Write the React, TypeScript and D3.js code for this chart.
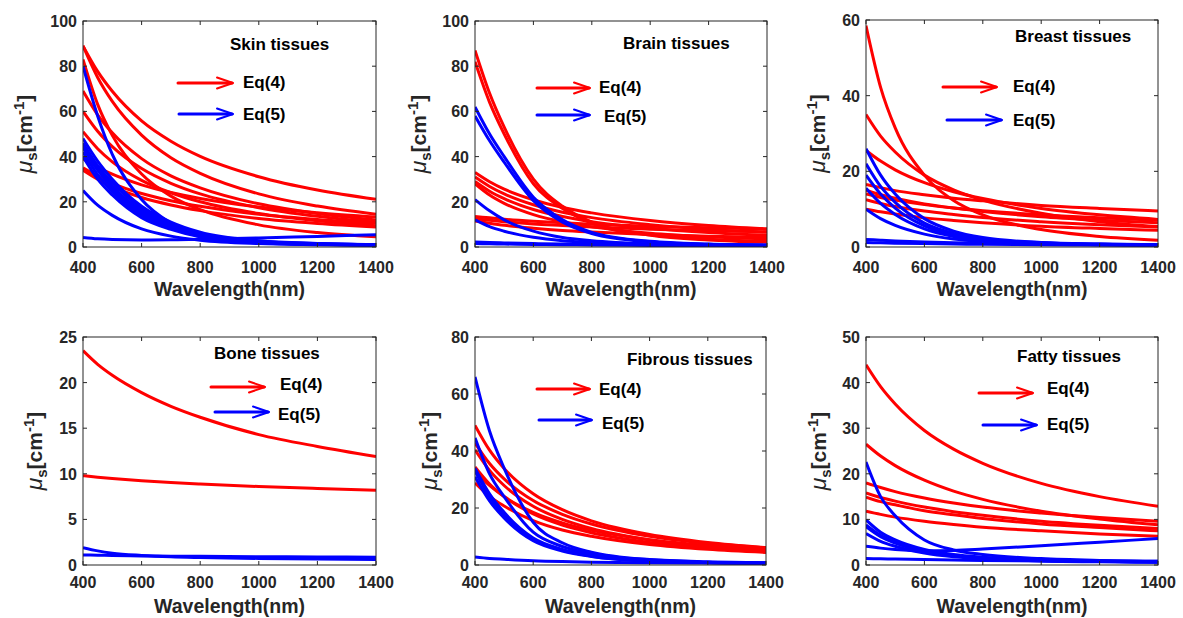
import React from 'react';
import * as d3 from 'd3';

// ---------- data ----------
const WAVELENGTHS = [400, 450, 500, 600, 700, 800, 1000, 1200, 1400];
const X_TICKS = [400, 600, 800, 1000, 1200, 1400];

const skinEq4 = [
  [89, 77.7, 68.9, 55.8, 46.8, 40.1, 31.1, 25.2, 21.1],
  [89, 75, 64.4, 49.5, 39.5, 32.6, 23.5, 18.1, 14.5],
  [83, 63.1, 49.4, 32.3, 22.5, 16.5, 9.8, 6.4, 4.5],
  [69, 58.5, 50.5, 39.1, 31.5, 26.2, 19.1, 14.8, 11.9],
  [60, 51.2, 44.4, 34.7, 28.2, 23.5, 17.4, 13.6, 11.0],
  [51, 43.5, 37.7, 29.5, 24.0, 20.0, 14.8, 11.6, 9.4],
  [39, 35.3, 32.2, 27.5, 24.1, 21.5, 17.7, 15.2, 13.3],
  [35, 31.3, 28.2, 23.7, 20.5, 18.0, 14.5, 12.2, 10.5],
  [34, 30, 26.7, 21.9, 18.6, 16.1, 12.6, 10.4, 8.8],
];
const skinEq5 = [
  [80, 58, 41, 21, 10.5, 4.5, 1.8, 1.2, 1.0],
  [48, 38, 30, 18, 11, 6.5, 2.8, 1.6, 1.1],
  [46, 36, 28.5, 17, 10, 6, 2.6, 1.5, 1.0],
  [45, 35, 27, 16, 9.5, 5.5, 2.4, 1.4, 1.0],
  [44, 34, 26, 15, 9, 5, 2.2, 1.3, 0.9],
  [42, 32, 24.5, 14, 8.5, 4.8, 2.1, 1.2, 0.9],
  [40, 30, 23, 13, 7.8, 4.5, 2.0, 1.2, 0.8],
  [25, 18.5, 14, 8, 4.8, 3, 1.5, 1.0, 0.7],
  [4.2, 3.6, 3.3, 3.1, 3.2, 3.4, 4.0, 4.7, 5.4],
];

const brainEq4 = [
  [87, 68, 53, 30, 18, 11, 5.5, 3.4, 2.5],
  [82, 64, 50, 28, 17, 10.5, 5.2, 3.1, 2.1],
  [33, 28.9, 25.6, 20.9, 17.5, 15.1, 11.7, 9.5, 8.0],
  [31, 26.8, 23.5, 18.7, 15.4, 13.0, 9.9, 7.8, 6.5],
  [29, 24.7, 21.4, 16.6, 13.5, 11.2, 8.3, 6.4, 5.2],
  [28, 23, 19.3, 14.3, 11.1, 8.9, 6.1, 4.5, 3.5],
  [13.5, 12.9, 12.3, 11.4, 10.7, 10.1, 9.2, 8.5, 8.0],
  [12.5, 11.8, 11.2, 10.2, 9.5, 8.8, 7.9, 7.2, 6.7],
  [11.5, 10.5, 9.6, 8.3, 7.3, 6.6, 5.5, 4.8, 4.2],
];
const brainEq5 = [
  [62, 50, 40, 22, 12, 6.5, 2.5, 1.3, 0.9],
  [58, 47, 37.5, 20.5, 11, 6, 2.3, 1.2, 0.8],
  [21, 16, 12, 7, 4.2, 2.8, 1.4, 0.9, 0.7],
  [12, 9, 7, 4.3, 2.8, 2, 1.2, 0.8, 0.6],
  [2.2, 2.0, 1.8, 1.5, 1.3, 1.2, 1.0, 0.9, 0.8],
  [1.5, 1.4, 1.3, 1.1, 1.0, 0.9, 0.7, 0.6, 0.5],
];

const breastEq4 = [
  [58.5, 42.2, 31.5, 19.0, 12.3, 8.5, 4.6, 2.8, 1.8],
  [35, 29.3, 25.1, 19.0, 15.1, 12.4, 8.9, 6.7, 5.4],
  [25.5, 22.7, 20.4, 17, 14.6, 12.8, 10.2, 8.5, 7.3],
  [16.5, 15.7, 14.9, 13.8, 12.9, 12.2, 11.0, 10.2, 9.5],
  [15, 13.8, 12.9, 11.4, 10.3, 9.4, 8.0, 7.1, 6.4],
  [14, 13.1, 12.4, 11.2, 10.3, 9.6, 8.5, 7.7, 7.1],
  [12.5, 11.5, 10.7, 9.5, 8.6, 7.8, 6.7, 5.9, 5.3],
  [10, 9.3, 8.7, 7.7, 7.0, 6.4, 5.5, 4.9, 4.4],
];
const breastEq5 = [
  [26, 19, 14, 7.5, 4.2, 2.5, 1.2, 0.8, 0.6],
  [22, 16, 11.8, 6.3, 3.6, 2.2, 1.1, 0.7, 0.5],
  [19, 14, 10.3, 5.6, 3.2, 2, 1.0, 0.7, 0.5],
  [15.5, 11.5, 8.6, 4.8, 2.8, 1.8, 0.9, 0.6, 0.5],
  [10, 7.5, 5.7, 3.4, 2.1, 1.4, 0.8, 0.6, 0.4],
  [2, 1.8, 1.6, 1.3, 1.1, 1.0, 0.8, 0.7, 0.6],
  [1.2, 1.1, 1.0, 0.9, 0.8, 0.7, 0.6, 0.5, 0.4],
];

const boneEq4 = [
  [23.5, 22.0, 20.8, 18.9, 17.4, 16.2, 14.3, 13.0, 11.9],
  [9.8, 9.63, 9.49, 9.25, 9.05, 8.88, 8.6, 8.39, 8.2],
];
const boneEq5 = [
  [1.9, 1.55, 1.3, 1.05, 0.9, 0.82, 0.72, 0.66, 0.6],
  [1.1, 1.07, 1.04, 1.0, 0.97, 0.95, 0.91, 0.88, 0.85],
];

const fibrousEq4 = [
  [49, 40.3, 33.9, 25.0, 19.4, 15.5, 10.7, 7.9, 6.1],
  [42.8, 35.6, 30.2, 22.6, 17.8, 14.4, 10.1, 7.6, 6.0],
  [40.4, 33.2, 27.9, 20.6, 16.0, 12.8, 8.8, 6.5, 5.0],
  [34.4, 28.4, 24.0, 17.9, 14.0, 11.3, 7.9, 5.9, 4.6],
  [33, 27.9, 24.0, 18.5, 14.8, 12.2, 8.9, 6.9, 5.5],
  [28.8, 24.1, 20.7, 15.6, 12.3, 10.1, 7.2, 5.5, 4.4],
];
const fibrousEq5 = [
  [66, 47, 34, 15, 7.8, 4.5, 1.9, 1.1, 0.8],
  [44.6, 32, 24, 11.5, 6.5, 4, 1.8, 1.0, 0.7],
  [34, 25, 18.5, 9.5, 5.5, 3.3, 1.5, 0.9, 0.6],
  [33, 24, 17.5, 9, 5.2, 3.1, 1.4, 0.9, 0.6],
  [31, 22.5, 16.5, 8.5, 4.9, 3.0, 1.4, 0.8, 0.6],
  [2.8, 2.3, 2.0, 1.5, 1.2, 1.0, 0.8, 0.7, 0.6],
];

const fattyEq4 = [
  [43.9, 39.1, 35.3, 29.5, 25.4, 22.3, 17.9, 15.0, 12.9],
  [26.5, 23.9, 21.8, 18.6, 16.2, 14.4, 11.8, 10.1, 8.8],
  [18, 17.0, 16.1, 14.7, 13.6, 12.7, 11.4, 10.4, 9.6],
  [15.8, 14.8, 14.0, 12.7, 11.7, 10.9, 9.6, 8.7, 8.0],
  [14.9, 13.9, 13.2, 11.9, 11.0, 10.2, 9.0, 8.2, 7.5],
  [11.8, 11.1, 10.5, 9.6, 8.9, 8.3, 7.5, 6.8, 6.3],
];
const fattyEq5 = [
  [22.6, 15, 10.8, 5.5, 3.3, 2.3, 1.4, 1.0, 0.8],
  [9.9, 7.2, 5.5, 3.4, 2.3, 1.7, 1.1, 0.9, 0.7],
  [8.8, 6.5, 5.0, 3.1, 2.1, 1.6, 1.0, 0.8, 0.7],
  [8.4, 6.2, 4.8, 3.0, 2.0, 1.5, 1.0, 0.8, 0.6],
  [6.9, 5.2, 4.1, 2.6, 1.8, 1.4, 0.9, 0.7, 0.6],
  [4.1, 3.7, 3.4, 3.1, 3.2, 3.5, 4.2, 5.0, 5.8],
  [1.4, 1.35, 1.3, 1.2, 1.1, 1.0, 0.9, 0.8, 0.8],
];

const titles = ['Skin tissues', 'Brain tissues', 'Breast tissues', 'Bone tissues', 'Fibrous tissues', 'Fatty tissues'];
const yMaxes = [100, 100, 60, 25, 80, 50];
const yTickSteps = [20, 20, 20, 5, 20, 10];
const eq4Sets = [skinEq4, brainEq4, breastEq4, boneEq4, fibrousEq4, fattyEq4];
const eq5Sets = [skinEq5, brainEq5, breastEq5, boneEq5, fibrousEq5, fattyEq5];

// ---------- layout ----------
const FONT = "'Liberation Sans', Arial, Helvetica, sans-serif";
const AXIS_COLOR = '#262626';

const LAYOUT = [
  { left: 83, right: 376, top: 21, bottom: 247, ylabX: 32, xtDy: 26, xlDy: 49,
    title: [230, 50], red: [178, 233, 83], eq4: [243, 88], blue: [179, 233, 114], eq5: [243, 120] },
  { left: 475, right: 767, top: 21, bottom: 247, ylabX: 426, xtDy: 26, xlDy: 49,
    title: [623, 49], red: [537, 590, 88], eq4: [599, 93], blue: [537, 590, 115], eq5: [604, 122] },
  { left: 866, right: 1158, top: 20, bottom: 247, ylabX: 825, xtDy: 26, xlDy: 49,
    title: [1015, 42], red: [943, 997, 87], eq4: [1013, 92], blue: [947, 1002, 120], eq5: [1013, 126] },
  { left: 83, right: 376, top: 337, bottom: 565, ylabX: 42, xtDy: 23, xlDy: 48,
    title: [214, 359], red: [211, 265, 387], eq4: [280, 390], blue: [215, 269, 412], eq5: [278, 420] },
  { left: 475, right: 766, top: 337, bottom: 565, ylabX: 437, xtDy: 23, xlDy: 48,
    title: [627, 365], red: [537, 590, 389], eq4: [599, 395], blue: [539, 592, 420], eq5: [602, 429] },
  { left: 866, right: 1158, top: 337, bottom: 565, ylabX: 826, xtDy: 23, xlDy: 48,
    title: [1017, 362], red: [979, 1033, 393], eq4: [1047, 394], blue: [983, 1037, 425], eq5: [1047, 430] },
];

function Arrow({ x1, x2, y, color }: { x1: number; x2: number; y: number; color: string }) {
  return (
    <g stroke={color} fill="none" strokeLinecap="round" strokeLinejoin="round">
      <line x1={x1} y1={y} x2={x2 - 1} y2={y} strokeWidth={3} />
      <path d={`M${x2 - 16},${y - 5.5} L${x2},${y} L${x2 - 16},${y + 5.5}`} strokeWidth={2} />
    </g>
  );
}

function Panel({ idx }: { idx: number }) {
  const L = LAYOUT[idx];
  const yMax = yMaxes[idx];
  const x = d3.scaleLinear().domain([400, 1400]).range([L.left, L.right]);
  const y = d3.scaleLinear().domain([0, yMax]).range([L.bottom, L.top]);
  const yTicks = d3.range(0, yMax + 0.001, yTickSteps[idx]);
  const line = d3
    .line<number>()
    .x((_, i) => x(WAVELENGTHS[i]))
    .y((d) => y(d))
    .curve(d3.curveMonotoneX);
  const clipId = `clip${idx}`;
  const tickLen = 4;
  const cy = (L.top + L.bottom) / 2;
  return (
    <g>
      <defs>
        <clipPath id={clipId}>
          <rect x={L.left} y={L.top} width={L.right - L.left} height={L.bottom - L.top} />
        </clipPath>
      </defs>
      <g clipPath={`url(#${clipId})`} fill="none" strokeWidth={3} strokeLinejoin="round">
        {eq4Sets[idx].map((s, i) => (
          <path key={`r${i}`} d={line(s) || ''} stroke="#ff0000" />
        ))}
        {eq5Sets[idx].map((s, i) => (
          <path key={`b${i}`} d={line(s) || ''} stroke="#0000ff" />
        ))}
      </g>
      {/* box */}
      <rect x={L.left} y={L.top} width={L.right - L.left} height={L.bottom - L.top}
        fill="none" stroke={AXIS_COLOR} strokeWidth={1} />
      {/* x ticks */}
      {X_TICKS.map((t) => (
        <g key={`xt${t}`}>
          <line x1={x(t)} x2={x(t)} y1={L.bottom} y2={L.bottom - tickLen} stroke={AXIS_COLOR} />
          <line x1={x(t)} x2={x(t)} y1={L.top} y2={L.top + tickLen} stroke={AXIS_COLOR} />
          <text x={x(t)} y={L.bottom + L.xtDy} textAnchor="middle" fontFamily={FONT} fontWeight="bold"
            fontSize={16} fill={AXIS_COLOR}>{t}</text>
        </g>
      ))}
      {/* y ticks */}
      {yTicks.map((t) => (
        <g key={`yt${t}`}>
          <line x1={L.left} x2={L.left + tickLen} y1={y(t)} y2={y(t)} stroke={AXIS_COLOR} />
          <line x1={L.right} x2={L.right - tickLen} y1={y(t)} y2={y(t)} stroke={AXIS_COLOR} />
          <text x={L.left - 6} y={y(t) + 6} textAnchor="end" fontFamily={FONT} fontWeight="bold"
            fontSize={16} fill={AXIS_COLOR}>{t}</text>
        </g>
      ))}
      {/* axis labels */}
      <text x={(L.left + L.right) / 2} y={L.bottom + L.xlDy} textAnchor="middle" fontFamily={FONT}
        fontWeight="bold" fontSize={19.5} fill={AXIS_COLOR}>Wavelength(nm)</text>
      <text transform={`translate(${L.ylabX},${cy}) rotate(-90)`} textAnchor="middle" fontFamily={FONT}
        fontWeight="bold" fontSize={21} fill={AXIS_COLOR}>
        <tspan fontStyle="italic" fontWeight="normal" fontSize={23}>μ</tspan>
        <tspan fontSize={15} dy={5}>s</tspan>
        <tspan dy={-5}>[cm</tspan>
        <tspan fontSize={15} dy={-8}>-1</tspan>
        <tspan dy={8}>]</tspan>
      </text>
      {/* title + legend */}
      <text x={L.title[0]} y={L.title[1]} fontFamily={FONT} fontWeight="bold" fontSize={17} fill="#000">
        {titles[idx]}
      </text>
      <Arrow x1={L.red[0]} x2={L.red[1]} y={L.red[2]} color="#ff0000" />
      <text x={L.eq4[0]} y={L.eq4[1]} fontFamily={FONT} fontWeight="bold" fontSize={17} fill="#000">Eq(4)</text>
      <Arrow x1={L.blue[0]} x2={L.blue[1]} y={L.blue[2]} color="#0000ff" />
      <text x={L.eq5[0]} y={L.eq5[1]} fontFamily={FONT} fontWeight="bold" fontSize={17} fill="#000">Eq(5)</text>
    </g>
  );
}

export default function App() {
  return (
    <svg width={1183} height={618} viewBox="0 0 1183 618"
      style={{ position: 'absolute', left: 0, top: 0, background: '#fff' }}>
      <rect x={0} y={0} width={1183} height={618} fill="#fff" />
      {LAYOUT.map((_, i) => (
        <Panel key={i} idx={i} />
      ))}
    </svg>
  );
}
